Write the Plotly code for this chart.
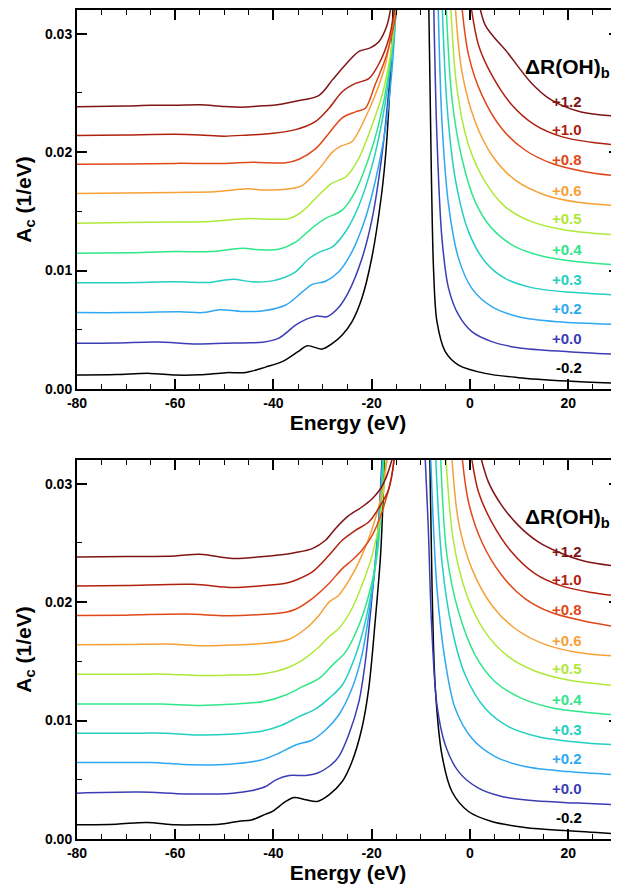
import plotly.graph_objects as go

# ---------------- data (energies in eV, A_c in units of 1e-3 / eV) ----------------
# None separates the two flanks of the main peak, which runs off the top of the frame.
DELTA_LABELS = ["-0.2", "+0.0", "+0.2", "+0.3", "+0.4", "+0.5", "+0.6", "+0.8", "+1.0", "+1.2"]
COLORS = ["#000000", "#3c3cb4", "#2ea8f0", "#22cfc0", "#30e68a",
          "#aee838", "#f8a038", "#e0481a", "#b0200e", "#801414"]

# ---- upper panel ----
top_e_m02 = [-80, -72, -65.2, -60, -55, -49.7, -45.6, -41.6, -38, -35, -33.1, -30.1, -28, -26, -24, -22, -20, -18, -17, -16, -15.6,
             None, -8.4, -7.86, -7.39, -6.71, -5.02, -2.32, 3.09, 9.85, 19.99, 29.94]
top_a_m02 = [1.18, 1.22, 1.32, 1.18, 1.2, 1.38, 1.4, 1.85, 2.35, 3.15, 3.66, 3.37, 3.85, 4.56, 5.69, 7.66, 11.04, 16.4, 20.6, 28.2, 33,
             None, 33, 18.35, 9.91, 5.68, 3.15, 2.02, 1.32, 0.96, 0.67, 0.48]
top_e_p00 = [-80, -72, -63.8, -55.7, -50, -45, -42.2, -38.9, -35.5, -33.8, -31.1, -29.1, -26.7, -24.7, -22, -19.9, -17.9, -16.5, -15.3,
             None, -7.4, -6.71, -5.70, -4.35, -2.32, 0.39, 4.44, 9.85, 19.99, 29.94]
top_a_p00 = [3.86, 3.88, 3.97, 3.8, 3.86, 3.9, 3.95, 4.3, 5.4, 5.8, 6.16, 6.1, 6.9, 8.2, 11.0, 14.4, 19.8, 25.4, 33,
             None, 33, 21.17, 12.72, 8.5, 6.25, 4.84, 4.0, 3.49, 3.15, 2.93]
top_e_p02 = [-80, -70, -59.1, -54.4, -51, -46.5, -42, -37.5, -34.1, -32.1, -29.4, -26.7, -24.0, -21.3, -19.3, -17.2, -15.9, -14.9,
             None, -6.5, -5.70, -4.35, -2.32, 0.39, 4.44, 9.85, 17.97, 29.94]
top_a_p02 = [6.45, 6.45, 6.53, 6.45, 6.7, 6.55, 6.6, 7.09, 8.2, 8.83, 9.1, 9.9, 11.6, 14.4, 17.5, 22.0, 26.8, 33,
             None, 33, 22.58, 15.54, 11.03, 8.5, 6.95, 6.11, 5.68, 5.46]
top_e_p03 = [-80, -70, -60, -53, -48.3, -44.3, -40, -35.5, -32.8, -30.4, -28.0, -25.3, -22.6, -19.9, -17.9, -15.9, -14.8,
             None, -5.7, -4.68, -3.0, -0.29, 3.09, 7.15, 12.56, 20.67, 29.94]
top_a_p03 = [8.98, 8.98, 9.05, 9.0, 9.26, 9.05, 9.15, 9.9, 11.0, 11.6, 12.0, 13.3, 15.5, 18.9, 22.6, 28.2, 33,
             None, 33, 24.0, 17.79, 13.29, 10.75, 9.34, 8.56, 8.16, 7.94]
top_e_p04 = [-80, -70, -60, -53, -46.3, -42.5, -38.9, -35.5, -32.1, -29.4, -26.0, -23.3, -20.6, -18.6, -16.5, -15.0,
             None, -4.9, -3.67, -1.64, 1.06, 4.44, 9.18, 15.26, 22.0, 29.94]
top_a_p04 = [11.46, 11.5, 11.6, 11.6, 11.88, 11.75, 11.8, 12.4, 13.6, 14.4, 15.1, 16.7, 19.5, 22.3, 26.8, 33,
             None, 33, 24.55, 19.48, 15.82, 13.57, 12.02, 11.17, 10.75, 10.47]
top_e_p05 = [-80, -70, -60, -53, -45, -42, -36.8, -34.1, -30.7, -28.0, -25.3, -22.6, -19.9, -17.9, -16.2, -14.8,
             None, -4.0, -2.65, -0.29, 3.09, 7.15, 12.56, 19.32, 29.94]
top_a_p05 = [14.0, 14.05, 14.1, 14.15, 14.4, 14.35, 14.4, 15.0, 16.4, 17.4, 17.9, 19.5, 22.3, 24.8, 28.2, 33,
             None, 33, 25.39, 20.61, 17.51, 15.4, 14.13, 13.43, 13.0]
top_e_p06 = [-80, -70, -60, -52, -45.2, -42, -36.8, -34.1, -30.7, -28.0, -26.3, -24.0, -21.3, -19.3, -17.2, -15.0,
             None, -3.1, -1.64, 1.06, 4.44, 9.18, 15.26, 22.0, 29.94]
top_a_p06 = [16.5, 16.55, 16.6, 16.65, 16.9, 16.8, 16.9, 17.2, 18.6, 20.0, 20.5, 20.9, 22.9, 24.8, 27.4, 33,
             None, 33, 26.8, 22.58, 19.76, 17.65, 16.38, 15.76, 15.48]
top_e_p08 = [-80, -70, -60, -50, -44.3, -37.5, -34.8, -31.4, -28.7, -26.0, -23.3, -21.3, -19.3, -17.2, -15.2, -14.6,
             None, -1.8, -0.29, 2.42, 6.47, 11.2, 16.6, 23.4, 29.94]
top_a_p08 = [18.97, 19.0, 19.05, 19.05, 19.15, 19.1, 19.4, 20.3, 21.6, 22.9, 23.4, 23.7, 25.7, 27.9, 31.3, 33,
             None, 33, 28.21, 24.83, 22.0, 20.18, 19.06, 18.35, 17.99]
top_e_p10 = [-80, -70, -60, -55, -50, -45, -42.2, -35.5, -31.4, -28.7, -26.0, -23.3, -20.6, -18.6, -16.5, -15.0,
             None, 0.0, 1.74, 4.44, 8.5, 13.2, 18.64, 24.7, 29.94]
top_a_p10 = [21.4, 21.45, 21.5, 21.45, 21.35, 21.45, 21.5, 21.9, 22.6, 23.7, 25.1, 25.8, 26.2, 27.4, 29.6, 33,
             None, 33, 29.05, 26.52, 24.0, 22.3, 21.31, 20.83, 20.61]
top_e_p12 = [-80, -70, -65, -60, -55, -50, -46, -43, -40, -35.5, -30.7, -28.0, -25.3, -22.6, -20.3, -18.6, -16.9, -15.8,
             None, 1.6, 3.09, 5.12, 7.22, 12.5, 16.55, 22.63, 29.94]
top_a_p12 = [23.84, 23.9, 23.95, 23.95, 24.0, 23.85, 23.8, 23.9, 23.95, 24.3, 24.8, 26.1, 27.4, 28.5, 28.8, 29.3, 30.7, 33,
             None, 33, 30.74, 29.6, 28.63, 25.84, 24.41, 23.39, 23.05]

# ---- lower panel ----
bot_e_m02 = [-80, -72, -65.8, -60, -55, -51, -47, -44.5, -41.6, -40.2, -37.5, -35.8, -33.4, -31.1, -28.7, -26.0, -24.0, -22.0, -20.6, -19.3, -18.2, -17.6, -17.3,
             None, -8.2, -7.7, -7.05, -5.70, -3.67, -0.29, 4.44, 11.2, 19.99, 29.94]
bot_a_m02 = [1.2, 1.25, 1.4, 1.2, 1.2, 1.25, 1.5, 1.6, 2.1, 2.33, 3.17, 3.5, 3.31, 3.17, 3.73, 4.85, 6.54, 9.35, 12.72, 18.34, 23.95, 29.57, 33,
             None, 33, 21.0, 12.72, 7.1, 4.01, 2.32, 1.48, 0.98, 0.69, 0.44]
bot_e_p00 = [-80, -67.2, -57.7, -48.3, -44.3, -41.6, -39.5, -36.8, -33.4, -31.1, -28.7, -26.7, -24.7, -22.6, -21.3, -19.9, -18.6, -17.8,
             None, -9.2, -8.5, -7.8, -6.71, -5.02, -2.32, 1.74, 6.47, 13.23, 22.02, 29.94]
bot_a_p00 = [3.87, 3.96, 3.8, 3.87, 4.1, 4.43, 4.99, 5.36, 5.36, 5.55, 6.12, 6.96, 8.78, 11.6, 14.96, 20.6, 26.8, 33,
             None, 33, 26.5, 18.0, 11.31, 7.94, 5.69, 4.29, 3.59, 3.22, 3.03, 2.89]
bot_e_p02 = [-80, -70, -65, -56.4, -49, -42.5, -38.9, -35.5, -32.1, -29.4, -26.7, -24.0, -22.0, -20.3, -18.9, -17.6,
             None, -8.06, -6.71, -5.02, -3.0, 0.39, 5.12, 11.2, 19.99, 29.94]
bot_a_p02 = [6.46, 6.46, 6.46, 6.26, 6.31, 6.67, 7.24, 7.94, 8.36, 9.2, 10.47, 12.72, 15.5, 19.74, 24.5, 33,
             None, 33, 21.14, 14.96, 11.03, 8.5, 6.96, 6.12, 5.69, 5.41]
bot_e_p03 = [-80, -70, -62, -56.4, -49, -42.2, -38.2, -34.8, -31.4, -28.7, -26.0, -23.3, -21.3, -19.3, -17.6,
             None, -7.05, -5.70, -3.67, -0.96, 3.09, 7.83, 13.91, 22.02, 29.94]
bot_a_p03 = [8.93, 8.93, 8.93, 8.79, 8.84, 9.12, 9.63, 10.33, 10.98, 11.87, 13.0, 15.5, 18.34, 23.1, 33,
             None, 33, 23.39, 17.77, 13.84, 11.03, 9.49, 8.64, 8.17, 7.94]
bot_e_p04 = [-80, -70, -63, -55, -49, -42, -37.5, -34.1, -30.7, -28.0, -25.3, -22.6, -20.6, -18.9, -17.4,
             None, -6.04, -4.68, -2.32, 1.06, 5.12, 10.53, 16.6, 23.38, 29.94]
bot_a_p04 = [11.4, 11.4, 11.4, 11.28, 11.37, 11.6, 12.16, 12.86, 13.56, 14.68, 15.8, 18.05, 20.6, 23.95, 33,
             None, 33, 23.95, 19.18, 15.53, 13.28, 11.87, 11.09, 10.7, 10.47]
bot_e_p05 = [-80, -70, -62, -55, -49, -42, -37.5, -34.1, -30.7, -28.7, -26.7, -24.0, -22.0, -19.9, -18.2, -16.9,
             None, -5.02, -3.33, -0.63, 3.09, 7.83, 13.23, 19.99, 29.94]
bot_a_p05 = [13.9, 13.9, 13.92, 13.8, 13.84, 13.95, 14.4, 15.1, 16.23, 17.07, 17.77, 19.46, 21.42, 23.95, 27.3, 33,
             None, 33, 25.08, 20.58, 17.49, 15.39, 14.18, 13.42, 12.94]
bot_e_p06 = [-80, -70, -60.4, -55, -49, -42.2, -36.8, -33.4, -30.7, -28.7, -26.7, -24.0, -22.0, -19.9, -18.2, -16.5,
             None, -3.8, -2.32, 0.39, 4.44, 9.18, 15.26, 22.02, 29.94]
bot_a_p06 = [16.4, 16.42, 16.45, 16.32, 16.37, 16.5, 16.87, 17.77, 18.9, 20.0, 20.58, 22.27, 23.95, 26.2, 28.7, 33,
             None, 33, 26.76, 22.83, 19.74, 17.77, 16.43, 15.75, 15.44]
bot_e_p08 = [-80, -70, -57.7, -49.7, -42.5, -37.5, -35.5, -32.1, -28.7, -26.0, -24.0, -22.0, -19.9, -17.9, -15.9, -15.2,
             None, -1.78, -0.29, 2.42, 6.47, 11.2, 16.6, 23.38, 29.94]
bot_a_p08 = [18.87, 18.9, 19.0, 18.85, 18.95, 19.15, 19.4, 20.3, 21.57, 22.83, 23.53, 24.37, 25.64, 27.6, 30.7, 33,
             None, 33, 28.45, 25.08, 22.27, 20.3, 19.12, 18.39, 17.91]
bot_e_p10 = [-80, -70, -56.4, -48.3, -42, -37.5, -35.5, -32.1, -28.7, -26.0, -23.3, -20.6, -18.6, -16.5, -15.2,
             None, 0.05, 1.74, 4.44, 8.5, 13.23, 18.64, 24.73, 29.94]
bot_a_p10 = [21.35, 21.4, 21.5, 21.23, 21.4, 21.6, 21.85, 22.55, 23.95, 25.22, 26.06, 26.76, 27.9, 29.57, 33,
             None, 33, 29.29, 26.76, 24.23, 22.41, 21.37, 20.81, 20.53]
bot_e_p12 = [-80, -70, -60, -55, -48.3, -42, -37.5, -35.5, -32.1, -29.4, -27.4, -24.7, -22.0, -19.9, -18.2, -16.9, -15.2,
             None, 1.74, 3.77, 6.47, 9.85, 13.91, 17.97, 23.38, 29.94]
bot_a_p12 = [23.8, 23.85, 23.9, 24.04, 23.68, 23.85, 24.04, 24.18, 24.52, 25.22, 26.2, 27.3, 28.03, 28.73, 29.57, 30.7, 33,
             None, 33, 30.13, 28.17, 26.48, 25.08, 24.23, 23.45, 23.03]

X_TICKS = [-80, -60, -40, -20, 0, 20]
X_TICK_TEXT = ["-80", "-60", "-40", "-20", "0", "20"]

TOP_E = [top_e_m02, top_e_p00, top_e_p02, top_e_p03, top_e_p04, top_e_p05, top_e_p06, top_e_p08, top_e_p10, top_e_p12]
TOP_A = [top_a_m02, top_a_p00, top_a_p02, top_a_p03, top_a_p04, top_a_p05, top_a_p06, top_a_p08, top_a_p10, top_a_p12]
BOT_E = [bot_e_m02, bot_e_p00, bot_e_p02, bot_e_p03, bot_e_p04, bot_e_p05, bot_e_p06, bot_e_p08, bot_e_p10, bot_e_p12]
BOT_A = [bot_a_m02, bot_a_p00, bot_a_p02, bot_a_p03, bot_a_p04, bot_a_p05, bot_a_p06, bot_a_p08, bot_a_p10, bot_a_p12]

# label placement (layout, not data)
LABEL_X = 23.3
LABEL_Y = [0.00183, 0.00428, 0.00681, 0.00926, 0.01174, 0.01442, 0.0168, 0.0194, 0.02188, 0.02427]

FONT = "Liberation Sans, Arial, Helvetica, sans-serif"

fig = go.Figure()


def to_units(vals):
    return [None if v is None else v / 1000.0 for v in vals]


for panel, (es, as_) in enumerate([(TOP_E, TOP_A), (BOT_E, BOT_A)]):
    xa = "x" if panel == 0 else "x2"
    ya = "y" if panel == 0 else "y2"
    for i in range(len(DELTA_LABELS)):
        fig.add_trace(go.Scatter(
            x=es[i], y=to_units(as_[i]), mode="lines",
            line=dict(color=COLORS[i], width=1.5, shape="spline", smoothing=0.9),
            connectgaps=False, showlegend=False, hoverinfo="skip",
            xaxis=xa, yaxis=ya))
    for i, lab in enumerate(DELTA_LABELS):
        fig.add_annotation(x=LABEL_X, y=LABEL_Y[i], xref=xa, yref=ya, text=lab,
                           showarrow=False, xanchor="right", yanchor="middle",
                           font=dict(family=FONT, size=15, color=COLORS[i], weight="bold"))
    fig.add_annotation(x=28.9, y=0.0271, xref=xa, yref=ya,
                       text="\u0394R(OH)<sub>b</sub>", showarrow=False,
                       xanchor="right", yanchor="middle",
                       font=dict(family=FONT, size=21, color="black", weight="bold"))

xcommon = dict(range=[-80, 30.35], tickmode="array", tickvals=X_TICKS, ticktext=X_TICK_TEXT,
               ticks="inside", ticklen=10, tickwidth=1.5, tickcolor="black",
               minor=dict(tickmode="array", tickvals=[v for v in range(-75, 30, 5) if v % 20 != 0],
                          ticks="inside", ticklen=5, tickwidth=1.2, tickcolor="black"),
               showline=True, linewidth=2, linecolor="black", mirror="allticks",
               showgrid=False, zeroline=False,
               tickfont=dict(family=FONT, size=14, color="black", weight="bold"),
               title=dict(text="Energy (eV)", standoff=4,
                          font=dict(family=FONT, size=21, color="black", weight="bold")))
ycommon = dict(range=[0, 0.032], tickmode="linear", tick0=0, dtick=0.01, tickformat=".2f",
               ticks="inside", ticklen=10, tickwidth=1.5, tickcolor="black",
               minor=dict(dtick=0.005, ticks="inside", ticklen=5, tickwidth=1.2, tickcolor="black"),
               showline=True, linewidth=2, linecolor="black", mirror="allticks",
               showgrid=False, zeroline=False,
               tickfont=dict(family=FONT, size=14, color="black", weight="bold"),
               title=dict(text="A<sub>c</sub> (1/eV)", standoff=8,
                          font=dict(family=FONT, size=21, color="black", weight="bold")))

# the page body adds an 8 px margin; the figure runs just past the window's right edge,
# so the right frame line is cut off as in the reference
fig.update_layout(
    width=613, height=876,
    margin=dict(l=69, r=0, t=2, b=45),
    plot_bgcolor="white", paper_bgcolor="white",
    xaxis=dict(domain=[0, 1], anchor="y", **xcommon),
    yaxis=dict(domain=[0.5428, 1], anchor="x", **ycommon),
    xaxis2=dict(domain=[0, 1], anchor="y2", **xcommon),
    yaxis2=dict(domain=[0, 0.4572], anchor="x2", **ycommon),
)

fig.write_html("out.html")
